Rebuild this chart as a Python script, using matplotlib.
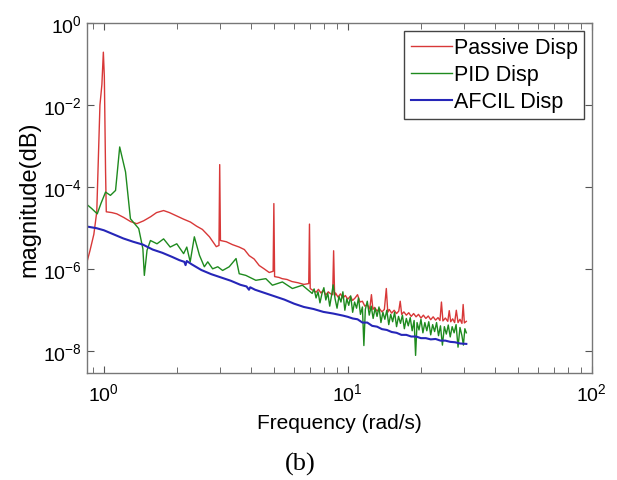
import numpy as np
import matplotlib
matplotlib.use("Agg")
import matplotlib.pyplot as plt
from matplotlib.ticker import FixedLocator, NullFormatter, LogFormatterSciNotation

plt.rcParams['font.family'] = ['Liberation Sans', 'DejaVu Sans']
plt.rcParams['mathtext.fontset'] = 'custom'
plt.rcParams['mathtext.rm'] = 'Liberation Sans'

# values, as log10(frequency) and log10(magnitude)
passive_logf = [-0.069, -0.057, -0.041, -0.029, -0.016, -0.008, -0.002, 0.002, 0.004, 0.007,
                0.010, 0.033, 0.053, 0.082, 0.110, 0.135, 0.163, 0.192, 0.216, 0.245,
                0.269, 0.298, 0.327, 0.355, 0.380, 0.404, 0.433, 0.461, 0.472, 0.475,
                0.478, 0.502, 0.527, 0.555, 0.576, 0.596, 0.616, 0.637, 0.657, 0.678,
                0.694, 0.697, 0.700, 0.718, 0.731, 0.751, 0.771, 0.796, 0.820, 0.840,
                0.843, 0.846, 0.853, 0.860, 0.870, 0.880, 0.890, 0.900, 0.910, 0.920,
                0.930, 0.938, 0.942, 0.946, 0.950, 0.960, 0.970, 0.980, 0.990, 1.000,
                1.010, 1.020, 1.030, 1.040, 1.050, 1.060, 1.070, 1.080, 1.090, 1.097,
                1.103, 1.110, 1.120, 1.130, 1.140, 1.150, 1.158, 1.164, 1.170, 1.180,
                1.190, 1.200, 1.209, 1.215, 1.221, 1.230, 1.240, 1.250, 1.260, 1.270,
                1.280, 1.290, 1.300, 1.310, 1.320, 1.330, 1.340, 1.350, 1.360, 1.370,
                1.378, 1.384, 1.390, 1.400, 1.410, 1.416, 1.422, 1.430, 1.438, 1.445,
                1.452, 1.460, 1.468, 1.473, 1.478, 1.486]
passive_logm = [-5.82, -5.55, -5.15, -4.60, -2.00, -1.50, -0.71, -1.30, -2.20, -3.60,
                -4.60, -4.62, -4.65, -4.74, -4.84, -4.89, -4.82, -4.72, -4.62, -4.57,
                -4.62, -4.70, -4.78, -4.85, -4.95, -5.03, -5.21, -5.45, -5.42, -3.45,
                -5.30, -5.33, -5.40, -5.46, -5.52, -5.67, -5.75, -5.91, -5.99, -6.08,
                -6.05, -4.40, -6.18, -6.20, -6.23, -6.25, -6.30, -6.33, -6.37, -6.35,
                -4.90, -6.47, -6.50, -6.52, -6.56, -6.49, -6.58, -6.51, -6.63, -6.55,
                -6.60, -6.62, -5.55, -6.64, -6.58, -6.68, -6.60, -6.70, -6.64, -6.73,
                -6.66, -6.76, -6.70, -6.62, -6.80, -6.78, -6.90, -6.86, -6.97, -6.62,
                -6.98, -6.93, -7.02, -6.96, -7.04, -6.98, -6.47, -7.05, -6.98, -7.07,
                -7.00, -7.08, -7.02, -6.78, -7.10, -7.04, -7.12, -7.06, -7.15, -7.08,
                -7.16, -7.10, -7.19, -7.12, -7.20, -7.14, -7.23, -7.16, -7.24, -7.18,
                -7.25, -6.80, -7.26, -7.19, -7.27, -7.01, -7.28, -7.21, -7.30, -7.00,
                -7.30, -7.22, -7.32, -6.86, -7.31, -7.27]

pid_logf = [-0.068, -0.050, -0.027, -0.012, 0.007, 0.027, 0.048, 0.065, 0.089, 0.109,
            0.143, 0.160, 0.166, 0.177, 0.191, 0.218, 0.245, 0.272, 0.299, 0.327,
            0.340, 0.354, 0.371, 0.392, 0.412, 0.426, 0.446, 0.467, 0.487, 0.514,
            0.542, 0.555, 0.582, 0.623, 0.664, 0.691, 0.732, 0.773, 0.814, 0.854,
            0.862, 0.870, 0.878, 0.886, 0.894, 0.902, 0.910, 0.918, 0.926, 0.934,
            0.940, 0.948, 0.956, 0.964, 0.972, 0.980, 0.988, 0.996, 1.004, 1.012,
            1.020, 1.028, 1.036, 1.044, 1.052, 1.060, 1.066, 1.072, 1.080, 1.088,
            1.096, 1.104, 1.112, 1.120, 1.128, 1.136, 1.144, 1.152, 1.160, 1.168,
            1.176, 1.184, 1.192, 1.200, 1.208, 1.216, 1.224, 1.232, 1.240, 1.248,
            1.256, 1.264, 1.272, 1.278, 1.284, 1.292, 1.300, 1.308, 1.316, 1.324,
            1.332, 1.340, 1.348, 1.356, 1.364, 1.372, 1.380, 1.388, 1.396, 1.404,
            1.412, 1.420, 1.428, 1.436, 1.444, 1.452, 1.460, 1.468, 1.474, 1.480,
            1.486]
pid_logm = [-4.43, -4.52, -4.65, -4.40, -4.12, -4.20, -4.08, -3.02, -3.63, -4.77,
            -5.01, -5.50, -6.15, -5.54, -5.30, -5.38, -5.26, -5.46, -5.38, -5.62,
            -5.46, -5.82, -5.21, -5.66, -5.94, -5.82, -5.99, -5.94, -6.03, -5.94,
            -5.74, -6.11, -6.15, -6.27, -6.23, -6.39, -6.31, -6.47, -6.39, -6.59,
            -6.48, -6.70, -6.55, -6.82, -6.60, -6.45, -6.75, -6.58, -6.90, -6.62,
            -6.38, -6.72, -6.95, -6.66, -6.80, -6.55, -7.00, -6.72, -6.88, -6.65,
            -7.05, -6.80, -6.95, -6.70, -7.10, -6.92, -7.86, -6.98, -6.78, -7.12,
            -6.90, -7.20, -6.95, -7.15, -6.92, -7.30, -7.05, -7.22, -7.00, -7.35,
            -7.10, -7.28, -7.05, -7.40, -7.15, -7.32, -7.12, -7.45, -7.20, -7.38,
            -7.18, -7.50, -7.25, -8.10, -7.30, -7.48, -7.22, -7.55, -7.30, -7.50,
            -7.28, -7.60, -7.35, -7.52, -7.30, -7.62, -7.38, -7.85, -7.40, -7.58,
            -7.36, -7.65, -7.40, -7.55, -7.35, -7.90, -7.42, -7.62, -7.85, -7.45,
            -7.55]

afcil_logf = [-0.069, -0.030, 0.000, 0.040, 0.080, 0.120, 0.160, 0.200, 0.240, 0.280,
              0.310, 0.330, 0.335, 0.340, 0.360, 0.400, 0.440, 0.480, 0.520, 0.560,
              0.585, 0.595, 0.600, 0.620, 0.660, 0.700, 0.740, 0.780, 0.820, 0.860,
              0.900, 0.940, 0.980, 1.000, 1.020, 1.040, 1.060, 1.080, 1.100, 1.120,
              1.140, 1.160, 1.180, 1.200, 1.220, 1.240, 1.260, 1.280, 1.300, 1.320,
              1.340, 1.360, 1.380, 1.400, 1.420, 1.440, 1.460, 1.486]
afcil_logm = [-4.96, -5.00, -5.05, -5.15, -5.25, -5.33, -5.40, -5.52, -5.60, -5.70,
              -5.78, -5.82, -5.90, -5.80, -5.88, -6.02, -6.12, -6.20, -6.28, -6.38,
              -6.42, -6.50, -6.44, -6.50, -6.58, -6.66, -6.74, -6.84, -6.92, -6.97,
              -7.04, -7.08, -7.13, -7.16, -7.20, -7.22, -7.30, -7.30, -7.38, -7.40,
              -7.46, -7.48, -7.53, -7.55, -7.60, -7.60, -7.64, -7.64, -7.68, -7.68,
              -7.71, -7.70, -7.74, -7.74, -7.77, -7.78, -7.81, -7.82]

y_ticks = [1e-8, 1e-6, 1e-4, 1e-2, 1e0]
x_ticks = [1e0, 1e1, 1e2]
x_minor = [0.9] + [m * 10 ** d for d in (0, 1) for m in range(2, 10)]

fig = plt.figure(figsize=(6.17, 4.81), dpi=100)
ax = fig.add_axes([0.141, 0.223, 0.818, 0.727])

ax.loglog(10 ** np.array(passive_logf), 10 ** np.array(passive_logm),
          color='#d83838', lw=1.0, label='Passive Disp')
ax.loglog(10 ** np.array(pid_logf), 10 ** np.array(pid_logm),
          color='#1e8a1e', lw=1.0, label='PID Disp')
ax.loglog(10 ** np.array(afcil_logf), 10 ** np.array(afcil_logm),
          color='#2626b8', lw=1.5, label='AFCIL Disp')

ax.set_xlim(0.853, 100)
ax.set_ylim(3.0e-9, 1)

ax.yaxis.set_major_locator(FixedLocator(y_ticks))
ax.yaxis.set_minor_locator(FixedLocator([]))
ax.yaxis.set_major_formatter(LogFormatterSciNotation())
ax.xaxis.set_major_locator(FixedLocator(x_ticks))
ax.xaxis.set_minor_locator(FixedLocator(x_minor))
ax.xaxis.set_major_formatter(LogFormatterSciNotation())
ax.xaxis.set_minor_formatter(NullFormatter())

ax.tick_params(which='both', direction='in', top=True, right=True,
               color='#555555', labelsize=14)
ax.tick_params(axis='x', which='major', pad=7)
ax.tick_params(which='major', length=5)
ax.tick_params(which='minor', length=4)
for s in ax.spines.values():
    s.set_color('#777777')
    s.set_linewidth(1.0)

ax.set_xlabel('Frequency (rad/s)', fontsize=15, labelpad=6)
ax.set_ylabel('magnitude(dB)', fontsize=17, labelpad=2)

leg = ax.legend(loc='upper right', fontsize=15.5, fancybox=False, framealpha=1,
                edgecolor='#444444', handlelength=1.9, handletextpad=0.1,
                labelspacing=0.28, borderpad=0.3, borderaxespad=0.35)
leg.get_frame().set_linewidth(1.0)

fig.text(0.487, 0.022, '(b)', fontsize=19, family='Liberation Serif', ha='center')

fig.savefig('out.png', dpi=100)
